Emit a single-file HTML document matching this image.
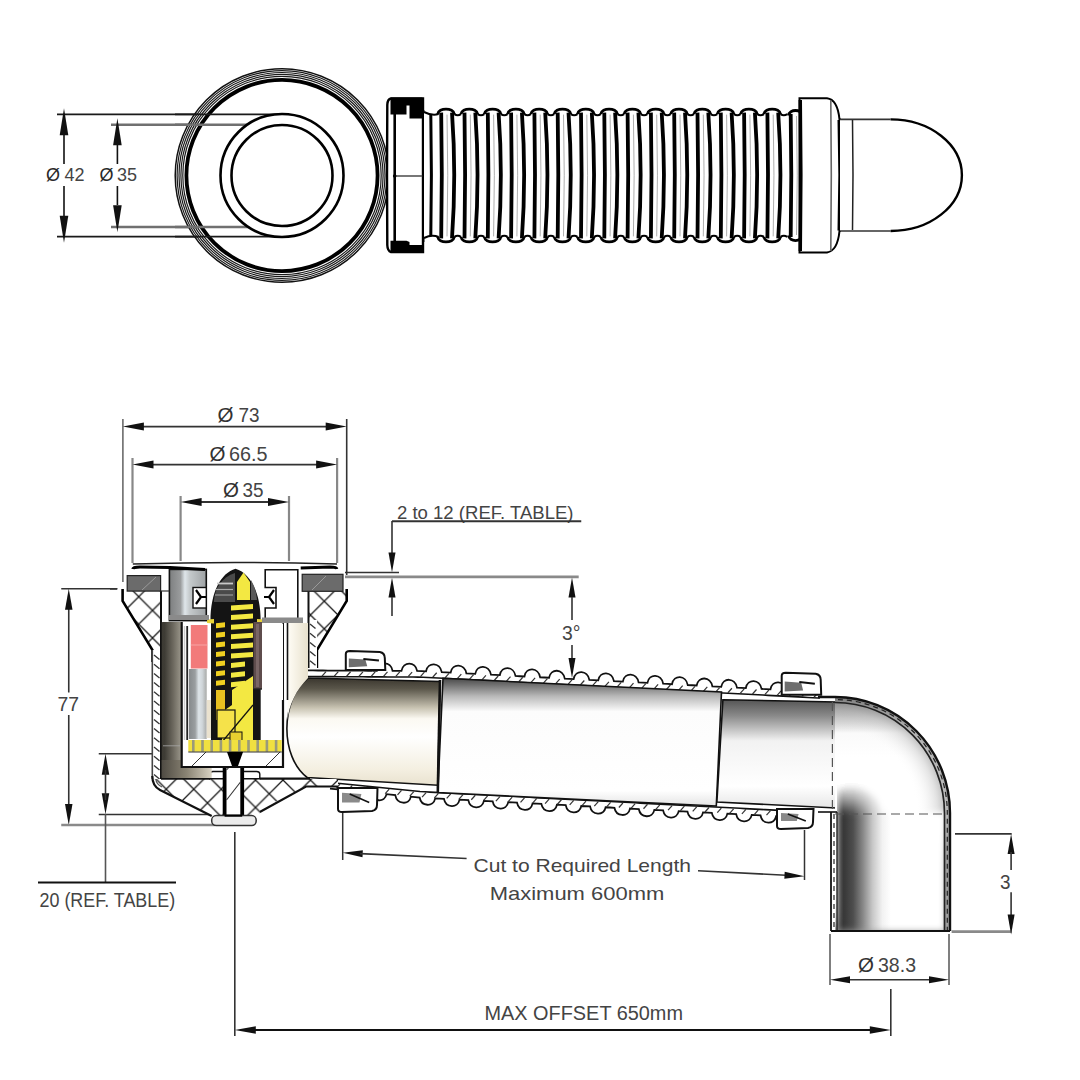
<!DOCTYPE html>
<html><head><meta charset="utf-8"><title>drawing</title>
<style>
html,body{margin:0;padding:0;background:#fff;}
svg{display:block;}
text{font-family:"Liberation Sans",sans-serif;}
</style></head>
<body>
<svg width="1080" height="1080" viewBox="0 0 1080 1080">

<defs>
 <pattern id="hatch" patternUnits="userSpaceOnUse" width="14" height="14">
   <rect width="14" height="14" fill="#fff"/>
   <path d="M-1,15 L15,-1 M-1,-1 L15,15" stroke="#111" stroke-width="1.3"/>
 </pattern>
 <pattern id="hatchL" patternUnits="userSpaceOnUse" width="27.5" height="27.5" patternTransform="translate(1.25,19.2)">
   <rect width="27.5" height="27.5" fill="#fff"/>
   <path d="M-2,-2 L29.5,29.5 M29.5,-2 L-2,29.5" stroke="#1a1a1a" stroke-width="1.3"/>
 </pattern>
 <pattern id="hatchR" patternUnits="userSpaceOnUse" width="27.5" height="27.5" patternTransform="translate(8,10)">
   <rect width="27.5" height="27.5" fill="#fff"/>
   <path d="M-2,-2 L29.5,29.5 M29.5,-2 L-2,29.5" stroke="#1a1a1a" stroke-width="1.3"/>
 </pattern>
 <linearGradient id="gWallB" x1="0" y1="0" x2="1" y2="0">
   <stop offset="0" stop-color="#4f4b43"/>
   <stop offset="0.5" stop-color="#8a8474"/>
   <stop offset="1" stop-color="#d8d2c2"/>
 </linearGradient>
 <pattern id="hatchs" patternUnits="userSpaceOnUse" width="7" height="7">
   <rect width="7" height="7" fill="#fff"/>
   <path d="M-1,8 L8,-1" stroke="#111" stroke-width="1.2"/>
 </pattern>
 <linearGradient id="gPipeL" x1="0" y1="0" x2="0" y2="1">
   <stop offset="0" stop-color="#3a362e"/>
   <stop offset="0.1" stop-color="#5a564a"/>
   <stop offset="0.28" stop-color="#c9c4b3"/>
   <stop offset="0.38" stop-color="#fbf9f2"/>
   <stop offset="0.55" stop-color="#ffffff"/>
   <stop offset="0.85" stop-color="#f4efe1"/>
   <stop offset="1" stop-color="#e9e2cf"/>
 </linearGradient>
 <linearGradient id="gPipeM" x1="0" y1="0" x2="0" y2="1">
   <stop offset="0" stop-color="#4a4a4a"/>
   <stop offset="0.05" stop-color="#707070"/>
   <stop offset="0.14" stop-color="#b8b8b8"/>
   <stop offset="0.26" stop-color="#fcfcfc"/>
   <stop offset="0.88" stop-color="#ffffff"/>
   <stop offset="1" stop-color="#e4e4e4"/>
 </linearGradient>
 <linearGradient id="gPipeR" x1="0" y1="0" x2="0" y2="1">
   <stop offset="0" stop-color="#555"/>
   <stop offset="0.15" stop-color="#8a8a8a"/>
   <stop offset="0.38" stop-color="#f2f2f2"/>
   <stop offset="0.8" stop-color="#ffffff"/>
   <stop offset="1" stop-color="#e6e6e6"/>
 </linearGradient>
 <linearGradient id="gLeg" x1="0" y1="0" x2="1" y2="0">
   <stop offset="0" stop-color="#4a4a4a"/>
   <stop offset="0.06" stop-color="#363636"/>
   <stop offset="0.15" stop-color="#4e4e4e"/>
   <stop offset="0.24" stop-color="#888"/>
   <stop offset="0.33" stop-color="#c8c8c8"/>
   <stop offset="0.42" stop-color="#f2f2f2"/>
   <stop offset="0.5" stop-color="#fff"/>
   <stop offset="1" stop-color="#fff"/>
 </linearGradient>
 <linearGradient id="gWall" x1="0" y1="0" x2="1" y2="0">
   <stop offset="0" stop-color="#3c3a33"/>
   <stop offset="0.15" stop-color="#3e3c35"/>
   <stop offset="0.6" stop-color="#6e6a60"/>
   <stop offset="1" stop-color="#9a968a"/>
 </linearGradient>
 <linearGradient id="gCream" x1="0" y1="0" x2="1" y2="0">
   <stop offset="0" stop-color="#fffdf6"/>
   <stop offset="1" stop-color="#e8e1cd"/>
 </linearGradient>
 <linearGradient id="gMetal" x1="0" y1="0" x2="1" y2="0">
   <stop offset="0" stop-color="#7d7f80"/>
   <stop offset="0.3" stop-color="#9a9c9d"/>
   <stop offset="0.42" stop-color="#dfe6ea"/>
   <stop offset="0.55" stop-color="#c5cacc"/>
   <stop offset="1" stop-color="#9ea2a4"/>
 </linearGradient>
 <linearGradient id="gBlue" x1="0" y1="0" x2="1" y2="0">
   <stop offset="0" stop-color="#868a8c"/>
   <stop offset="0.35" stop-color="#9a9ea0"/>
   <stop offset="0.55" stop-color="#dde4e8"/>
   <stop offset="0.75" stop-color="#d0d6da"/>
   <stop offset="1" stop-color="#a8aaa8"/>
 </linearGradient>
 <linearGradient id="gElbTop" x1="0" y1="0" x2="0" y2="1">
   <stop offset="0" stop-color="#4a4a4a"/>
   <stop offset="0.35" stop-color="#bdbdbd"/>
   <stop offset="0.6" stop-color="#fafafa"/>
   <stop offset="1" stop-color="#ffffff"/>
 </linearGradient>
 <radialGradient id="gBlob" cx="0.5" cy="0.5" r="0.5">
   <stop offset="0" stop-color="#333" stop-opacity="0.95"/>
   <stop offset="0.5" stop-color="#777" stop-opacity="0.5"/>
   <stop offset="1" stop-color="#fff" stop-opacity="0"/>
 </radialGradient>
 <radialGradient id="gElbRad" gradientUnits="userSpaceOnUse" cx="835" cy="813" r="116">
   <stop offset="0" stop-color="#fff" stop-opacity="0"/>
   <stop offset="0.7" stop-color="#fff" stop-opacity="0"/>
   <stop offset="0.88" stop-color="#c8c8c8" stop-opacity="0.5"/>
   <stop offset="1" stop-color="#888" stop-opacity="0.8"/>
 </radialGradient>
 <linearGradient id="gMaskLeg" x1="0" y1="0" x2="0" y2="1">
   <stop offset="0" stop-color="#000"/>
   <stop offset="0.02" stop-color="#222"/>
   <stop offset="0.2" stop-color="#fff"/>
   <stop offset="1" stop-color="#fff"/>
 </linearGradient>
 <mask id="mLeg" maskUnits="userSpaceOnUse" x="830" y="770" width="130" height="170">
   <path d="M837,931 L837,792 Q852,776 878,800 L884,812 L945,812 L945,931 Z" fill="url(#gMaskLeg)" filter="url(#blur2)"/>
 </mask>
 <filter id="blur2" x="-20%" y="-20%" width="140%" height="140%"><feGaussianBlur stdDeviation="3"/></filter>
 <clipPath id="cElb"><path d="M835,697 A115,116 0 0 1 950,813 L950,931 L831,931 L831,813 L835,813 Z"/></clipPath>
</defs>

<rect width="1080" height="1080" fill="#fff"/>
<line x1="57" y1="114.4" x2="282" y2="114.4" stroke="#1a1a1a" stroke-width="1.8" />
<line x1="57" y1="236.7" x2="282" y2="236.7" stroke="#1a1a1a" stroke-width="1.8" />
<line x1="111" y1="124.8" x2="282" y2="124.8" stroke="#707070" stroke-width="2.6" />
<line x1="111" y1="227" x2="282" y2="227" stroke="#707070" stroke-width="2.6" />
<line x1="64" y1="134" x2="64" y2="164" stroke="#111" stroke-width="1.6" />
<line x1="64" y1="186" x2="64" y2="216" stroke="#111" stroke-width="1.6" />
<polygon points="64,108.2 68.3,135.2 59.7,135.2" fill="#111"/>
<polygon points="64,242.8 59.7,215.8 68.3,215.8" fill="#111"/>
<line x1="117.4" y1="145" x2="117.4" y2="164" stroke="#111" stroke-width="1.6" />
<line x1="117.4" y1="186" x2="117.4" y2="205" stroke="#111" stroke-width="1.6" />
<polygon points="117.4,118.2 121.7,145.2 113.1,145.2" fill="#111"/>
<polygon points="117.4,232.3 113.1,205.3 121.7,205.3" fill="#111"/>
<circle cx="282" cy="175.5" r="104" fill="#fff" stroke="none"/>
<circle cx="282" cy="175.5" r="106.8" fill="none" stroke="#111" stroke-width="1.5"/>
<circle cx="282" cy="175.5" r="104.9" fill="none" stroke="#1a1a1a" stroke-width="1.2"/>
<circle cx="282" cy="175.5" r="103.0" fill="none" stroke="#1a1a1a" stroke-width="1.2"/>
<circle cx="282" cy="175.5" r="101.1" fill="none" stroke="#1a1a1a" stroke-width="1.2"/>
<circle cx="282" cy="175.5" r="99.2" fill="none" stroke="#1a1a1a" stroke-width="1.2"/>
<circle cx="282" cy="175.5" r="95.6" fill="none" stroke="#000" stroke-width="3.8"/>
<line x1="175" y1="114.4" x2="282" y2="114.4" stroke="#1a1a1a" stroke-width="1.8" />
<line x1="175" y1="236.7" x2="282" y2="236.7" stroke="#1a1a1a" stroke-width="1.8" />
<line x1="175" y1="124.8" x2="282" y2="124.8" stroke="#707070" stroke-width="2.6" />
<line x1="175" y1="227" x2="282" y2="227" stroke="#707070" stroke-width="2.6" />
<circle cx="282" cy="175.5" r="61.5" fill="#fff" stroke="#000" stroke-width="2.6"/>
<circle cx="282" cy="175.5" r="50.5" fill="#fff" stroke="#000" stroke-width="2.6"/>
<text x="46" y="180.6" font-size="18" text-anchor="start" fill="#2a2a2a" >Ø</text>
<text x="64.5" y="180.6" font-size="18" text-anchor="start" fill="#444" >42</text>
<text x="99.5" y="180.6" font-size="18" text-anchor="start" fill="#2a2a2a" >Ø</text>
<text x="117" y="180.6" font-size="18" text-anchor="start" fill="#444" >35</text>
<path d="M391,98.5 L423,98.5 L423,252 L391,252 Q387.5,251 387.3,245 L387,175 L387.3,105 Q387.5,99 391,98.5 Z" fill="#fff" stroke="#000" stroke-width="2.4"/>
<path d="M390.5,97.5 L422.5,97.5 L422.5,118.5 L409.5,118.5 L409.5,105.5 L406.5,105.5 L406.5,114.5 L390.5,114.5 Z" fill="#000"/>
<path d="M390.5,252.5 L422.5,252.5 L422.5,245 L409.5,245 L409.5,242 L406.5,240.7 L390.5,240.7 Z" fill="#000"/>
<line x1="394.7" y1="112" x2="394.7" y2="242" stroke="#000" stroke-width="2.6" />
<line x1="394.7" y1="176" x2="423" y2="176" stroke="#555" stroke-width="1.6" />
<circle cx="394.7" cy="176" r="1.8" fill="#000"/>
<line x1="423.3" y1="110" x2="423.3" y2="242" stroke="#000" stroke-width="2.2" />
<rect x="424" y="112" width="374" height="126" fill="#fff"/>
<path d="M437.7,114.1 C438.7,107.4 453.3,107.4 454.3,114.1" fill="none" stroke="#000" stroke-width="2.8"/>
<path d="M437.7,236.9 C438.7,243.6 453.3,243.6 454.3,236.9" fill="none" stroke="#000" stroke-width="2.8"/>
<path d="M454.3,114.1 Q457.65,116.6 461,114.1" fill="none" stroke="#000" stroke-width="2"/>
<path d="M454.3,236.9 Q457.65,234.4 461,236.9" fill="none" stroke="#000" stroke-width="2"/>
<path d="M441.2,112.6 Q442.4,175 441.2,238.4" fill="none" stroke="#000" stroke-width="3.8"/>
<path d="M452,112.6 Q456.5,175 452,238.4" fill="none" stroke="#000" stroke-width="3.8"/>
<path d="M447,114.6 Q448.5,175 447,236.4" fill="none" stroke="#999" stroke-width="0.8"/>
<path d="M461,114.1 C462,107.4 476.6,107.4 477.6,114.1" fill="none" stroke="#000" stroke-width="2.8"/>
<path d="M461,236.9 C462,243.6 476.6,243.6 477.6,236.9" fill="none" stroke="#000" stroke-width="2.8"/>
<path d="M477.6,114.1 Q480.95,116.6 484.3,114.1" fill="none" stroke="#000" stroke-width="2"/>
<path d="M477.6,236.9 Q480.95,234.4 484.3,236.9" fill="none" stroke="#000" stroke-width="2"/>
<path d="M464.5,112.6 Q465.7,175 464.5,238.4" fill="none" stroke="#000" stroke-width="3.8"/>
<path d="M475.3,112.6 Q479.8,175 475.3,238.4" fill="none" stroke="#000" stroke-width="3.8"/>
<path d="M470.3,114.6 Q471.8,175 470.3,236.4" fill="none" stroke="#999" stroke-width="0.8"/>
<path d="M484.3,114.1 C485.3,107.4 499.9,107.4 500.9,114.1" fill="none" stroke="#000" stroke-width="2.8"/>
<path d="M484.3,236.9 C485.3,243.6 499.9,243.6 500.9,236.9" fill="none" stroke="#000" stroke-width="2.8"/>
<path d="M500.9,114.1 Q504.25,116.6 507.6,114.1" fill="none" stroke="#000" stroke-width="2"/>
<path d="M500.9,236.9 Q504.25,234.4 507.6,236.9" fill="none" stroke="#000" stroke-width="2"/>
<path d="M487.8,112.6 Q489,175 487.8,238.4" fill="none" stroke="#000" stroke-width="3.8"/>
<path d="M498.6,112.6 Q503.1,175 498.6,238.4" fill="none" stroke="#000" stroke-width="3.8"/>
<path d="M493.6,114.6 Q495.1,175 493.6,236.4" fill="none" stroke="#999" stroke-width="0.8"/>
<path d="M507.6,114.1 C508.6,107.4 523.2,107.4 524.2,114.1" fill="none" stroke="#000" stroke-width="2.8"/>
<path d="M507.6,236.9 C508.6,243.6 523.2,243.6 524.2,236.9" fill="none" stroke="#000" stroke-width="2.8"/>
<path d="M524.2,114.1 Q527.55,116.6 530.9,114.1" fill="none" stroke="#000" stroke-width="2"/>
<path d="M524.2,236.9 Q527.55,234.4 530.9,236.9" fill="none" stroke="#000" stroke-width="2"/>
<path d="M511.1,112.6 Q512.3,175 511.1,238.4" fill="none" stroke="#000" stroke-width="3.8"/>
<path d="M521.9,112.6 Q526.4,175 521.9,238.4" fill="none" stroke="#000" stroke-width="3.8"/>
<path d="M516.9,114.6 Q518.4,175 516.9,236.4" fill="none" stroke="#999" stroke-width="0.8"/>
<path d="M530.9,114.1 C531.9,107.4 546.5,107.4 547.5,114.1" fill="none" stroke="#000" stroke-width="2.8"/>
<path d="M530.9,236.9 C531.9,243.6 546.5,243.6 547.5,236.9" fill="none" stroke="#000" stroke-width="2.8"/>
<path d="M547.5,114.1 Q550.85,116.6 554.2,114.1" fill="none" stroke="#000" stroke-width="2"/>
<path d="M547.5,236.9 Q550.85,234.4 554.2,236.9" fill="none" stroke="#000" stroke-width="2"/>
<path d="M534.4,112.6 Q535.6,175 534.4,238.4" fill="none" stroke="#000" stroke-width="3.8"/>
<path d="M545.2,112.6 Q549.7,175 545.2,238.4" fill="none" stroke="#000" stroke-width="3.8"/>
<path d="M540.2,114.6 Q541.7,175 540.2,236.4" fill="none" stroke="#999" stroke-width="0.8"/>
<path d="M554.2,114.1 C555.2,107.4 569.8,107.4 570.8,114.1" fill="none" stroke="#000" stroke-width="2.8"/>
<path d="M554.2,236.9 C555.2,243.6 569.8,243.6 570.8,236.9" fill="none" stroke="#000" stroke-width="2.8"/>
<path d="M570.8,114.1 Q574.15,116.6 577.5,114.1" fill="none" stroke="#000" stroke-width="2"/>
<path d="M570.8,236.9 Q574.15,234.4 577.5,236.9" fill="none" stroke="#000" stroke-width="2"/>
<path d="M557.7,112.6 Q558.9,175 557.7,238.4" fill="none" stroke="#000" stroke-width="3.8"/>
<path d="M568.5,112.6 Q573,175 568.5,238.4" fill="none" stroke="#000" stroke-width="3.8"/>
<path d="M563.5,114.6 Q565,175 563.5,236.4" fill="none" stroke="#999" stroke-width="0.8"/>
<path d="M577.5,114.1 C578.5,107.4 593.1,107.4 594.1,114.1" fill="none" stroke="#000" stroke-width="2.8"/>
<path d="M577.5,236.9 C578.5,243.6 593.1,243.6 594.1,236.9" fill="none" stroke="#000" stroke-width="2.8"/>
<path d="M594.1,114.1 Q597.45,116.6 600.8,114.1" fill="none" stroke="#000" stroke-width="2"/>
<path d="M594.1,236.9 Q597.45,234.4 600.8,236.9" fill="none" stroke="#000" stroke-width="2"/>
<path d="M581,112.6 Q582.2,175 581,238.4" fill="none" stroke="#000" stroke-width="3.8"/>
<path d="M591.8,112.6 Q596.3,175 591.8,238.4" fill="none" stroke="#000" stroke-width="3.8"/>
<path d="M586.8,114.6 Q588.3,175 586.8,236.4" fill="none" stroke="#999" stroke-width="0.8"/>
<path d="M600.8,114.1 C601.8,107.4 616.4,107.4 617.4,114.1" fill="none" stroke="#000" stroke-width="2.8"/>
<path d="M600.8,236.9 C601.8,243.6 616.4,243.6 617.4,236.9" fill="none" stroke="#000" stroke-width="2.8"/>
<path d="M617.4,114.1 Q620.75,116.6 624.1,114.1" fill="none" stroke="#000" stroke-width="2"/>
<path d="M617.4,236.9 Q620.75,234.4 624.1,236.9" fill="none" stroke="#000" stroke-width="2"/>
<path d="M604.3,112.6 Q605.5,175 604.3,238.4" fill="none" stroke="#000" stroke-width="3.8"/>
<path d="M615.1,112.6 Q619.6,175 615.1,238.4" fill="none" stroke="#000" stroke-width="3.8"/>
<path d="M610.1,114.6 Q611.6,175 610.1,236.4" fill="none" stroke="#999" stroke-width="0.8"/>
<path d="M624.1,114.1 C625.1,107.4 639.7,107.4 640.7,114.1" fill="none" stroke="#000" stroke-width="2.8"/>
<path d="M624.1,236.9 C625.1,243.6 639.7,243.6 640.7,236.9" fill="none" stroke="#000" stroke-width="2.8"/>
<path d="M640.7,114.1 Q644.05,116.6 647.4,114.1" fill="none" stroke="#000" stroke-width="2"/>
<path d="M640.7,236.9 Q644.05,234.4 647.4,236.9" fill="none" stroke="#000" stroke-width="2"/>
<path d="M627.6,112.6 Q628.8,175 627.6,238.4" fill="none" stroke="#000" stroke-width="3.8"/>
<path d="M638.4,112.6 Q642.9,175 638.4,238.4" fill="none" stroke="#000" stroke-width="3.8"/>
<path d="M633.4,114.6 Q634.9,175 633.4,236.4" fill="none" stroke="#999" stroke-width="0.8"/>
<path d="M647.4,114.1 C648.4,107.4 663,107.4 664,114.1" fill="none" stroke="#000" stroke-width="2.8"/>
<path d="M647.4,236.9 C648.4,243.6 663,243.6 664,236.9" fill="none" stroke="#000" stroke-width="2.8"/>
<path d="M664,114.1 Q667.35,116.6 670.7,114.1" fill="none" stroke="#000" stroke-width="2"/>
<path d="M664,236.9 Q667.35,234.4 670.7,236.9" fill="none" stroke="#000" stroke-width="2"/>
<path d="M650.9,112.6 Q652.1,175 650.9,238.4" fill="none" stroke="#000" stroke-width="3.8"/>
<path d="M661.7,112.6 Q666.2,175 661.7,238.4" fill="none" stroke="#000" stroke-width="3.8"/>
<path d="M656.7,114.6 Q658.2,175 656.7,236.4" fill="none" stroke="#999" stroke-width="0.8"/>
<path d="M670.7,114.1 C671.7,107.4 686.3,107.4 687.3,114.1" fill="none" stroke="#000" stroke-width="2.8"/>
<path d="M670.7,236.9 C671.7,243.6 686.3,243.6 687.3,236.9" fill="none" stroke="#000" stroke-width="2.8"/>
<path d="M687.3,114.1 Q690.65,116.6 694,114.1" fill="none" stroke="#000" stroke-width="2"/>
<path d="M687.3,236.9 Q690.65,234.4 694,236.9" fill="none" stroke="#000" stroke-width="2"/>
<path d="M674.2,112.6 Q675.4,175 674.2,238.4" fill="none" stroke="#000" stroke-width="3.8"/>
<path d="M685,112.6 Q689.5,175 685,238.4" fill="none" stroke="#000" stroke-width="3.8"/>
<path d="M680,114.6 Q681.5,175 680,236.4" fill="none" stroke="#999" stroke-width="0.8"/>
<path d="M694,114.1 C695,107.4 709.6,107.4 710.6,114.1" fill="none" stroke="#000" stroke-width="2.8"/>
<path d="M694,236.9 C695,243.6 709.6,243.6 710.6,236.9" fill="none" stroke="#000" stroke-width="2.8"/>
<path d="M710.6,114.1 Q713.95,116.6 717.3,114.1" fill="none" stroke="#000" stroke-width="2"/>
<path d="M710.6,236.9 Q713.95,234.4 717.3,236.9" fill="none" stroke="#000" stroke-width="2"/>
<path d="M697.5,112.6 Q698.7,175 697.5,238.4" fill="none" stroke="#000" stroke-width="3.8"/>
<path d="M708.3,112.6 Q712.8,175 708.3,238.4" fill="none" stroke="#000" stroke-width="3.8"/>
<path d="M703.3,114.6 Q704.8,175 703.3,236.4" fill="none" stroke="#999" stroke-width="0.8"/>
<path d="M717.3,114.1 C718.3,107.4 732.9,107.4 733.9,114.1" fill="none" stroke="#000" stroke-width="2.8"/>
<path d="M717.3,236.9 C718.3,243.6 732.9,243.6 733.9,236.9" fill="none" stroke="#000" stroke-width="2.8"/>
<path d="M733.9,114.1 Q737.25,116.6 740.6,114.1" fill="none" stroke="#000" stroke-width="2"/>
<path d="M733.9,236.9 Q737.25,234.4 740.6,236.9" fill="none" stroke="#000" stroke-width="2"/>
<path d="M720.8,112.6 Q722,175 720.8,238.4" fill="none" stroke="#000" stroke-width="3.8"/>
<path d="M731.6,112.6 Q736.1,175 731.6,238.4" fill="none" stroke="#000" stroke-width="3.8"/>
<path d="M726.6,114.6 Q728.1,175 726.6,236.4" fill="none" stroke="#999" stroke-width="0.8"/>
<path d="M740.6,114.1 C741.6,107.4 756.2,107.4 757.2,114.1" fill="none" stroke="#000" stroke-width="2.8"/>
<path d="M740.6,236.9 C741.6,243.6 756.2,243.6 757.2,236.9" fill="none" stroke="#000" stroke-width="2.8"/>
<path d="M757.2,114.1 Q760.55,116.6 763.9,114.1" fill="none" stroke="#000" stroke-width="2"/>
<path d="M757.2,236.9 Q760.55,234.4 763.9,236.9" fill="none" stroke="#000" stroke-width="2"/>
<path d="M744.1,112.6 Q745.3,175 744.1,238.4" fill="none" stroke="#000" stroke-width="3.8"/>
<path d="M754.9,112.6 Q759.4,175 754.9,238.4" fill="none" stroke="#000" stroke-width="3.8"/>
<path d="M749.9,114.6 Q751.4,175 749.9,236.4" fill="none" stroke="#999" stroke-width="0.8"/>
<path d="M763.9,114.1 C764.9,107.4 779.5,107.4 780.5,114.1" fill="none" stroke="#000" stroke-width="2.8"/>
<path d="M763.9,236.9 C764.9,243.6 779.5,243.6 780.5,236.9" fill="none" stroke="#000" stroke-width="2.8"/>
<path d="M780.5,114.1 Q783.85,116.6 787.2,114.1" fill="none" stroke="#000" stroke-width="2"/>
<path d="M780.5,236.9 Q783.85,234.4 787.2,236.9" fill="none" stroke="#000" stroke-width="2"/>
<path d="M767.4,112.6 Q768.6,175 767.4,238.4" fill="none" stroke="#000" stroke-width="3.8"/>
<path d="M778.2,112.6 Q782.7,175 778.2,238.4" fill="none" stroke="#000" stroke-width="3.8"/>
<path d="M773.2,114.6 Q774.7,175 773.2,236.4" fill="none" stroke="#999" stroke-width="0.8"/>
<path d="M788.5,115.5 C789.5,108.8 801.5,108.8 802.5,115.5" fill="none" stroke="#000" stroke-width="2.8"/>
<path d="M788.5,235.5 C789.5,242.2 801.5,242.2 802.5,235.5" fill="none" stroke="#000" stroke-width="2.8"/>
<path d="M790.7,114 Q791.9,175 790.7,237" fill="none" stroke="#000" stroke-width="3.8"/>
<path d="M801.5,114 Q806,175 801.5,237" fill="none" stroke="#000" stroke-width="3.8"/>
<path d="M796.5,116 Q798,175 796.5,235" fill="none" stroke="#999" stroke-width="0.8"/>
<path d="M424,112 Q432,116 438.6,114" fill="none" stroke="#000" stroke-width="2"/>
<path d="M424,238 Q432,234 438.6,237" fill="none" stroke="#000" stroke-width="2"/>
<path d="M430.8,114 Q432,175 430.8,236" fill="none" stroke="#000" stroke-width="3"/>
<path d="M799.5,98.3 L827,98.3 Q837.5,99.5 839.5,119.4 L840,119.4 L840,231 L839.5,231 Q837.5,251 827,252.4 L799.5,252.4 Z" fill="#fff" stroke="#000" stroke-width="2"/>
<path d="M800.3,100 Q801.5,175 800.3,251" fill="none" stroke="#000" stroke-width="3.4"/>
<path d="M830.8,100 Q831.8,175 830.8,251" fill="none" stroke="#666" stroke-width="1.6"/>
<path d="M838.8,120 Q840.5,175 838.8,230.5" fill="none" stroke="#000" stroke-width="2.6"/>
<path d="M840,119.4 L890.6,119.4 A71.3,55.8 0 0 1 890.6,231 L840,231 Z" fill="#fff" stroke="none"/>
<line x1="840" y1="119.4" x2="890.6" y2="119.4" stroke="#333" stroke-width="1.6" />
<line x1="840" y1="231" x2="890.6" y2="231" stroke="#333" stroke-width="1.6" />
<path d="M890.6,119.4 A71.3,55.8 0 0 1 890.6,231" fill="none" stroke="#000" stroke-width="2.4"/>
<path d="M852.5,120 Q853.5,175 852.5,230" fill="none" stroke="#222" stroke-width="1.5"/>
<line x1="122.9" y1="419" x2="122.9" y2="582" stroke="#555" stroke-width="1.4" />
<line x1="346.7" y1="419" x2="346.7" y2="575" stroke="#333" stroke-width="1.6" />
<line x1="132.5" y1="458" x2="132.5" y2="563" stroke="#888" stroke-width="2.2" />
<line x1="337.1" y1="458" x2="337.1" y2="563" stroke="#888" stroke-width="2.2" />
<line x1="180.6" y1="496" x2="180.6" y2="561" stroke="#888" stroke-width="2.2" />
<line x1="289" y1="496" x2="289" y2="561" stroke="#888" stroke-width="2.2" />
<line x1="143" y1="426.6" x2="326" y2="426.6" stroke="#333" stroke-width="1.8" />
<polygon points="122.9,426.6 143.9,422.6 143.9,430.6" fill="#111"/>
<polygon points="346.7,426.6 325.7,430.6 325.7,422.6" fill="#111"/>
<line x1="152" y1="464.6" x2="318" y2="464.6" stroke="#333" stroke-width="1.8" />
<polygon points="132.5,464.6 153.5,460.6 153.5,468.6" fill="#111"/>
<polygon points="337.1,464.6 316.1,468.6 316.1,460.6" fill="#111"/>
<line x1="200" y1="502" x2="270" y2="502" stroke="#333" stroke-width="1.8" />
<polygon points="180.6,502 201.6,498 201.6,506" fill="#111"/>
<polygon points="289,502 268,506 268,498" fill="#111"/>
<text x="217.5" y="422" font-size="20.5" text-anchor="start" fill="#333" >Ø</text>
<text x="238.5" y="422" font-size="20.5" text-anchor="start" fill="#444" textLength="21" lengthAdjust="spacingAndGlyphs" >73</text>
<text x="209.5" y="460.5" font-size="20.5" text-anchor="start" fill="#333" >Ø</text>
<text x="229" y="460.5" font-size="20.5" text-anchor="start" fill="#444" textLength="38.5" lengthAdjust="spacingAndGlyphs" >66.5</text>
<text x="223" y="497" font-size="20.5" text-anchor="start" fill="#333" >Ø</text>
<text x="242.5" y="497" font-size="20.5" text-anchor="start" fill="#444" textLength="21" lengthAdjust="spacingAndGlyphs" >35</text>
<text x="397" y="518.5" font-size="18.5" text-anchor="start" fill="#444" textLength="176.5" lengthAdjust="spacingAndGlyphs" >2 to 12 (REF. TABLE)</text>
<line x1="392" y1="521.25" x2="581.25" y2="521.25" stroke="#333" stroke-width="1.8" />
<line x1="392" y1="521" x2="392" y2="553" stroke="#333" stroke-width="1.6" />
<polygon points="392,572.5 388.5,552.5 395.5,552.5" fill="#111"/>
<polygon points="392,577.5 395.5,597.5 388.5,597.5" fill="#111"/>
<line x1="392" y1="597" x2="392" y2="616" stroke="#333" stroke-width="1.6" />
<line x1="345" y1="572.5" x2="399" y2="572.5" stroke="#333" stroke-width="1.4" />
<line x1="345" y1="576.9" x2="578.7" y2="576.9" stroke="#8a8a8a" stroke-width="2.6" />
<polygon points="572,577.5 575.5,597.5 568.5,597.5" fill="#111"/>
<line x1="572" y1="597" x2="572" y2="620" stroke="#333" stroke-width="1.6" />
<text x="562" y="640" font-size="20" text-anchor="start" fill="#444" textLength="18.5" lengthAdjust="spacingAndGlyphs" >3°</text>
<line x1="572" y1="645" x2="572" y2="660" stroke="#333" stroke-width="1.6" />
<polygon points="572,678 568.5,658 575.5,658" fill="#111"/>
<line x1="61.25" y1="588.75" x2="117.5" y2="588.75" stroke="#333" stroke-width="1.5" />
<line x1="68.75" y1="608" x2="68.75" y2="692.5" stroke="#333" stroke-width="1.6" />
<polygon points="68.75,588.75 72.5,609.75 65,609.75" fill="#111"/>
<text x="57.5" y="711" font-size="20.5" text-anchor="start" fill="#444" textLength="21.5" lengthAdjust="spacingAndGlyphs" >77</text>
<line x1="68.75" y1="715" x2="68.75" y2="806" stroke="#333" stroke-width="1.6" />
<polygon points="68.75,825 65,804 72.5,804" fill="#111"/>
<line x1="61.25" y1="825" x2="215" y2="825" stroke="#8a8a8a" stroke-width="2.6" />
<line x1="98.75" y1="753.75" x2="152" y2="753.75" stroke="#333" stroke-width="1.5" />
<line x1="98.75" y1="814.5" x2="215" y2="814.5" stroke="#333" stroke-width="1.5" />
<polygon points="105.5,753.75 109.25,774.75 101.75,774.75" fill="#111"/>
<polygon points="105.5,814.3 101.75,793.3 109.25,793.3" fill="#111"/>
<line x1="105.5" y1="770" x2="105.5" y2="800" stroke="#333" stroke-width="1.6" />
<line x1="105.5" y1="814" x2="105.5" y2="882" stroke="#555" stroke-width="1.6" />
<line x1="38" y1="882.5" x2="176" y2="882.5" stroke="#111" stroke-width="2.2" />
<text x="39.5" y="907" font-size="20" text-anchor="start" fill="#444" textLength="135.7" lengthAdjust="spacingAndGlyphs" >20 (REF. TABLE)</text>
<line x1="342.7" y1="812" x2="342.7" y2="860" stroke="#333" stroke-width="1.5" />
<polygon points="342.7,852.7 362.84,850.15 362.51,857.14" fill="#111"/>
<line x1="360" y1="853.6" x2="466.6" y2="858.5" stroke="#333" stroke-width="1.6" />
<line x1="698" y1="870.7" x2="786" y2="875.3" stroke="#333" stroke-width="1.6" />
<polygon points="804.5,876.3 784.34,878.75 784.71,871.76" fill="#111"/>
<line x1="804.5" y1="830" x2="804.5" y2="880" stroke="#333" stroke-width="1.5" />
<text x="473.5" y="872.4" font-size="19" text-anchor="start" fill="#444" textLength="217.5" lengthAdjust="spacingAndGlyphs" >Cut to Required Length</text>
<text x="489.7" y="899.7" font-size="19" text-anchor="start" fill="#444" textLength="174.6" lengthAdjust="spacingAndGlyphs" >Maximum 600mm</text>
<line x1="830" y1="934" x2="830" y2="985" stroke="#555" stroke-width="1.5" />
<line x1="949" y1="934" x2="949" y2="985" stroke="#555" stroke-width="1.5" />
<line x1="848" y1="979.7" x2="931" y2="979.7" stroke="#333" stroke-width="1.6" />
<polygon points="830,979.7 850,976.2 850,983.2" fill="#111"/>
<polygon points="949,979.7 929,983.2 929,976.2" fill="#111"/>
<text x="858" y="972.2" font-size="20.5" text-anchor="start" fill="#333" >Ø</text>
<text x="878" y="972.2" font-size="20.5" text-anchor="start" fill="#444" textLength="38" lengthAdjust="spacingAndGlyphs" >38.3</text>
<line x1="955" y1="833.9" x2="1011.7" y2="833.9" stroke="#333" stroke-width="1.6" />
<line x1="951.6" y1="931.6" x2="1011.7" y2="931.6" stroke="#8a8a8a" stroke-width="2.6" />
<polygon points="1011.1,834 1014.6,854 1007.6,854" fill="#111"/>
<line x1="1011.1" y1="852" x2="1011.1" y2="870" stroke="#333" stroke-width="1.6" />
<text x="1000" y="889.4" font-size="20.5" text-anchor="start" fill="#444" textLength="10.5" lengthAdjust="spacingAndGlyphs" >3</text>
<line x1="1011.1" y1="892.3" x2="1011.1" y2="915" stroke="#333" stroke-width="1.6" />
<polygon points="1011.1,934.5 1007.6,914.5 1014.6,914.5" fill="#111"/>
<line x1="890.8" y1="989" x2="890.8" y2="1036" stroke="#333" stroke-width="1.6" />
<line x1="234.8" y1="832" x2="234.8" y2="1036" stroke="#333" stroke-width="1.6" />
<line x1="254" y1="1030" x2="872" y2="1030" stroke="#111" stroke-width="2.2" />
<polygon points="234.8,1030 255.8,1026.25 255.8,1033.75" fill="#111"/>
<polygon points="890.8,1030 869.8,1033.75 869.8,1026.25" fill="#111"/>
<text x="484.5" y="1020" font-size="19.5" text-anchor="start" fill="#444" textLength="198.5" lengthAdjust="spacingAndGlyphs" >MAX OFFSET 650mm</text>
<polygon points="308,670.03 313,670.06 318,670.08 323,670.11 328,670.13 333,670.16 338,670.18 343,670.21 348,670.23 353,670.26 358,670.28 363,670.31 368,670.33 373,670.36 378,670.38 383,670.41 388,670.43 393,670.46 398,670.48 403,670.51 408,670.53 413,670.56 418,670.58 423,670.75 428,671.01 433,671.28 438,671.54 443,671.8 448,672.06 453,672.32 458,672.59 463,672.85 468,673.11 473,673.37 478,673.63 483,673.9 488,674.16 493,674.42 498,674.68 503,674.94 508,675.21 513,675.47 518,675.73 523,675.99 528,676.25 533,676.52 538,676.78 543,677.04 548,677.3 553,677.56 558,677.83 563,678.09 568,678.35 573,678.61 578,678.88 583,679.14 588,679.4 593,679.66 598,679.92 603,680.19 608,680.45 613,680.71 618,680.97 623,681.23 628,681.5 633,681.76 638,682.02 643,682.28 648,682.54 653,682.81 658,683.07 663,683.33 668,683.59 673,683.85 678,684.12 683,684.38 688,684.64 693,684.9 698,685.16 703,685.43 708,685.69 713,685.95 718,686.21 723,686.47 728,686.74 733,687 738,687.26 743,687.52 748,687.78 753,688.05 758,688.31 763,688.57 768,688.83 773,689.09 778,689.36 783,689.62 788,689.88 793,690.14 798,690.4 803,690.67 808,690.93 813,691.19 818,691.45 820,691.56 820,698.06 818,697.95 813,697.69 808,697.43 803,697.17 798,696.9 793,696.64 788,696.38 783,696.12 778,695.86 773,695.59 768,695.33 763,695.07 758,694.81 753,694.55 748,694.28 743,694.02 738,693.76 733,693.5 728,693.24 723,692.97 718,692.71 713,692.45 708,692.19 703,691.93 698,691.66 693,691.4 688,691.14 683,690.88 678,690.62 673,690.35 668,690.09 663,689.83 658,689.57 653,689.31 648,689.04 643,688.78 638,688.52 633,688.26 628,688 623,687.73 618,687.47 613,687.21 608,686.95 603,686.69 598,686.42 593,686.16 588,685.9 583,685.64 578,685.38 573,685.11 568,684.85 563,684.59 558,684.33 553,684.06 548,683.8 543,683.54 538,683.28 533,683.02 528,682.75 523,682.49 518,682.23 513,681.97 508,681.71 503,681.44 498,681.18 493,680.92 488,680.66 483,680.4 478,680.13 473,679.87 468,679.61 463,679.35 458,679.09 453,678.82 448,678.56 443,678.3 438,678.04 433,677.78 428,677.51 423,677.25 418,677.08 413,677.06 408,677.03 403,677.01 398,676.98 393,676.96 388,676.93 383,676.91 378,676.88 373,676.86 368,676.83 363,676.81 358,676.78 353,676.76 348,676.73 343,676.71 338,676.68 333,676.66 328,676.63 323,676.61 318,676.58 313,676.56 308,676.53" fill="#fff" stroke="none"/>
<path d="M372.4,670.76 L376.83,670.78 C378.55,660.91 390.85,660.97 392.57,670.86 L397,670.88 L401.43,670.9 C403.15,661.03 415.45,661.09 417.17,670.98 L421.6,671.08 L426.03,671.31 C427.75,661.52 440.05,662.17 441.77,672.14 L446.2,672.37 L450.63,672.6 C452.35,662.81 464.65,663.45 466.37,673.42 L470.8,673.66 L475.23,673.89 C476.95,664.1 489.25,664.74 490.97,674.71 L495.4,674.95 L499.83,675.18 C501.55,665.39 513.85,666.03 515.57,676 L520,676.24 L524.43,676.47 C526.15,666.68 538.45,667.32 540.17,677.29 L544.6,677.52 L549.03,677.76 C550.75,667.97 563.05,668.61 564.77,678.58 L569.2,678.81 L573.63,679.05 C575.35,669.26 587.65,669.9 589.37,679.87 L593.8,680.1 L598.23,680.34 C599.95,670.55 612.25,671.19 613.97,681.16 L618.4,681.39 L622.83,681.62 C624.55,671.83 636.85,672.48 638.57,682.45 L643,682.68 L647.43,682.91 C649.15,673.12 661.45,673.77 663.17,683.74 L667.6,683.97 L672.03,684.2 C673.75,674.41 686.05,675.06 687.77,685.03 L692.2,685.26 L696.63,685.49 C698.35,675.7 710.65,676.35 712.37,686.32 L716.8,686.55 L721.23,686.78 C722.95,676.99 735.25,677.64 736.97,687.61 L741.4,687.84 L745.83,688.07 C747.55,678.28 759.85,678.93 761.57,688.9 L766,689.13 L770.43,689.36 C772.15,679.57 784.45,680.21 786.17,690.18 L790.6,690.42" fill="none" stroke="#111" stroke-width="1.8"/>
<polyline points="308,670.43 313,670.46 318,670.48 323,670.51 328,670.53 333,670.56 338,670.58 343,670.61 348,670.63 353,670.66 358,670.68 363,670.71 368,670.73 372.4,670.76" fill="none" stroke="#111" stroke-width="1.8"/>
<polyline points="308,676.53 313,676.56 318,676.58 323,676.61 328,676.63 333,676.66 338,676.68 343,676.71 348,676.73 353,676.76 358,676.78 363,676.81 368,676.83 373,676.86 378,676.88 383,676.91 388,676.93 393,676.96 398,676.98 403,677.01 408,677.03 413,677.06 418,677.08 423,677.25 428,677.51 433,677.78 438,678.04 443,678.3 448,678.56 453,678.82 458,679.09 463,679.35 468,679.61 473,679.87 478,680.13 483,680.4 488,680.66 493,680.92 498,681.18 503,681.44 508,681.71 513,681.97 518,682.23 523,682.49 528,682.75 533,683.02 538,683.28 543,683.54 548,683.8 553,684.06 558,684.33 563,684.59 568,684.85 573,685.11 578,685.38 583,685.64 588,685.9 593,686.16 598,686.42 603,686.69 608,686.95 613,687.21 618,687.47 623,687.73 628,688 633,688.26 638,688.52 643,688.78 648,689.04 653,689.31 658,689.57 663,689.83 668,690.09 673,690.35 678,690.62 683,690.88 688,691.14 693,691.4 698,691.66 703,691.93 708,692.19 713,692.45 718,692.71 723,692.97 728,693.24 733,693.5 738,693.76 743,694.02 748,694.28 753,694.55 758,694.81 763,695.07 768,695.33 773,695.59 778,695.86 783,696.12 788,696.38 793,696.64 798,696.9 803,697.17 808,697.43 813,697.69 818,697.95 820,698.06" fill="none" stroke="#111" stroke-width="1.6"/>
<path d="M322,676.1 L326,671.6" stroke="#333" stroke-width="1.2"/>
<path d="M334.3,676.17 L338.3,671.67" stroke="#333" stroke-width="1.2"/>
<path d="M346.6,676.23 L350.6,671.73" stroke="#333" stroke-width="1.2"/>
<path d="M358.9,676.29 L362.9,671.79" stroke="#333" stroke-width="1.2"/>
<path d="M371.2,676.35 L375.2,671.85" stroke="#333" stroke-width="1.2"/>
<path d="M383.5,676.41 L387.5,671.91" stroke="#333" stroke-width="1.2"/>
<path d="M395.8,676.47 L399.8,671.97" stroke="#333" stroke-width="1.2"/>
<path d="M408.1,676.54 L412.1,672.04" stroke="#333" stroke-width="1.2"/>
<path d="M420.4,676.62 L424.4,672.12" stroke="#333" stroke-width="1.2"/>
<path d="M432.7,677.26 L436.7,672.76" stroke="#333" stroke-width="1.2"/>
<path d="M445,677.9 L449,673.4" stroke="#333" stroke-width="1.2"/>
<path d="M457.3,678.55 L461.3,674.05" stroke="#333" stroke-width="1.2"/>
<path d="M469.6,679.19 L473.6,674.69" stroke="#333" stroke-width="1.2"/>
<path d="M481.9,679.84 L485.9,675.34" stroke="#333" stroke-width="1.2"/>
<path d="M494.2,680.48 L498.2,675.98" stroke="#333" stroke-width="1.2"/>
<path d="M506.5,681.13 L510.5,676.63" stroke="#333" stroke-width="1.2"/>
<path d="M518.8,681.77 L522.8,677.27" stroke="#333" stroke-width="1.2"/>
<path d="M531.1,682.42 L535.1,677.92" stroke="#333" stroke-width="1.2"/>
<path d="M543.4,683.06 L547.4,678.56" stroke="#333" stroke-width="1.2"/>
<path d="M555.7,683.71 L559.7,679.21" stroke="#333" stroke-width="1.2"/>
<path d="M568,684.35 L572,679.85" stroke="#333" stroke-width="1.2"/>
<path d="M580.3,685 L584.3,680.5" stroke="#333" stroke-width="1.2"/>
<path d="M592.6,685.64 L596.6,681.14" stroke="#333" stroke-width="1.2"/>
<path d="M604.9,686.28 L608.9,681.78" stroke="#333" stroke-width="1.2"/>
<path d="M617.2,686.93 L621.2,682.43" stroke="#333" stroke-width="1.2"/>
<path d="M629.5,687.57 L633.5,683.07" stroke="#333" stroke-width="1.2"/>
<path d="M641.8,688.22 L645.8,683.72" stroke="#333" stroke-width="1.2"/>
<path d="M654.1,688.86 L658.1,684.36" stroke="#333" stroke-width="1.2"/>
<path d="M666.4,689.51 L670.4,685.01" stroke="#333" stroke-width="1.2"/>
<path d="M678.7,690.15 L682.7,685.65" stroke="#333" stroke-width="1.2"/>
<path d="M691,690.8 L695,686.3" stroke="#333" stroke-width="1.2"/>
<path d="M703.3,691.44 L707.3,686.94" stroke="#333" stroke-width="1.2"/>
<path d="M715.6,692.09 L719.6,687.59" stroke="#333" stroke-width="1.2"/>
<path d="M727.9,692.73 L731.9,688.23" stroke="#333" stroke-width="1.2"/>
<path d="M740.2,693.38 L744.2,688.88" stroke="#333" stroke-width="1.2"/>
<path d="M752.5,694.02 L756.5,689.52" stroke="#333" stroke-width="1.2"/>
<path d="M764.8,694.66 L768.8,690.16" stroke="#333" stroke-width="1.2"/>
<path d="M777.1,695.31 L781.1,690.81" stroke="#333" stroke-width="1.2"/>
<path d="M789.4,695.95 L793.4,691.45" stroke="#333" stroke-width="1.2"/>
<path d="M801.7,696.6 L805.7,692.1" stroke="#333" stroke-width="1.2"/>
<path d="M814,697.24 L818,692.74" stroke="#333" stroke-width="1.2"/>
<polygon points="330,782.55 335,783.05 340,783.55 345,784.05 350,784.55 355,785.05 360,785.55 365,786.05 370,786.55 375,787.05 380,787.55 385,788.05 390,788.55 395,789.05 400,789.55 405,790.05 410,790.55 415,791.05 420,791.55 425,791.81 430,792.08 435,792.34 440,792.6 445,792.86 450,793.12 455,793.39 460,793.65 465,793.91 470,794.17 475,794.43 480,794.7 485,794.96 490,795.22 495,795.48 500,795.74 505,796.01 510,796.27 515,796.53 520,796.79 525,797.05 530,797.32 535,797.58 540,797.84 545,798.1 550,798.36 555,798.63 560,798.89 565,799.15 570,799.41 575,799.68 580,799.94 585,800.2 590,800.46 595,800.72 600,800.99 605,801.25 610,801.51 615,801.77 620,802.03 625,802.3 630,802.56 635,802.82 640,803.08 645,803.34 650,803.61 655,803.87 660,804.13 665,804.39 670,804.65 675,804.92 680,805.18 685,805.44 690,805.7 695,805.96 700,806.23 705,806.49 710,806.75 715,807.01 720,807.27 725,807.54 730,807.8 735,808.06 740,808.32 745,808.58 750,808.85 755,809.11 760,809.37 765,809.63 770,809.89 775,810.16 780,810.42 785,810.68 790,810.94 795,811.2 800,811.47 800,817.97 795,817.7 790,817.44 785,817.18 780,816.92 775,816.66 770,816.39 765,816.13 760,815.87 755,815.61 750,815.35 745,815.08 740,814.82 735,814.56 730,814.3 725,814.04 720,813.77 715,813.51 710,813.25 705,812.99 700,812.73 695,812.46 690,812.2 685,811.94 680,811.68 675,811.42 670,811.15 665,810.89 660,810.63 655,810.37 650,810.11 645,809.84 640,809.58 635,809.32 630,809.06 625,808.8 620,808.53 615,808.27 610,808.01 605,807.75 600,807.49 595,807.22 590,806.96 585,806.7 580,806.44 575,806.18 570,805.91 565,805.65 560,805.39 555,805.13 550,804.86 545,804.6 540,804.34 535,804.08 530,803.82 525,803.55 520,803.29 515,803.03 510,802.77 505,802.51 500,802.24 495,801.98 490,801.72 485,801.46 480,801.2 475,800.93 470,800.67 465,800.41 460,800.15 455,799.89 450,799.62 445,799.36 440,799.1 435,798.84 430,798.58 425,798.31 420,798.05 415,797.55 410,797.05 405,796.55 400,796.05 395,795.55 390,795.05 385,794.55 380,794.05 375,793.55 370,793.05 365,792.55 360,792.05 355,791.55 350,791.05 345,790.55 340,790.05 335,789.55 330,789.05" fill="#fff"/>
<path d="M342.17,789.77 L346.56,790.21 C348.26,799.48 360.44,800.7 362.14,791.77 L366.52,792.2 L370.91,792.64 C372.61,801.91 384.79,803.13 386.49,794.2 L390.88,794.64 L395.26,795.08 C396.96,804.35 409.14,805.57 410.84,796.64 L415.22,797.07 L419.61,797.51 C421.31,806.72 433.49,807.36 435.19,798.35 L439.57,798.58 L443.96,798.81 C445.66,808 457.84,808.63 459.54,799.62 L463.92,799.85 L468.31,800.08 C470.01,809.27 482.19,809.91 483.89,800.9 L488.27,801.13 L492.66,801.36 C494.36,810.55 506.54,811.19 508.24,802.18 L512.62,802.41 L517.01,802.64 C518.71,811.83 530.89,812.46 532.59,803.45 L536.98,803.68 L541.36,803.91 C543.06,813.1 555.24,813.74 556.94,804.73 L561.32,804.96 L565.71,805.19 C567.41,814.38 579.59,815.02 581.29,806 L585.67,806.23 L590.06,806.46 C591.76,815.65 603.94,816.29 605.64,807.28 L610.02,807.51 L614.41,807.74 C616.11,816.93 628.29,817.57 629.99,808.56 L634.38,808.79 L638.76,809.02 C640.46,818.21 652.64,818.84 654.34,809.83 L658.73,810.06 L663.11,810.29 C664.81,819.48 676.99,820.12 678.69,811.11 L683.07,811.34 L687.46,811.57 C689.16,820.76 701.34,821.4 703.04,812.39 L707.43,812.62 L711.81,812.84 C713.51,822.03 725.69,822.67 727.39,813.66 L731.77,813.89 L736.16,814.12 C737.86,823.31 750.04,823.95 751.74,814.94 L756.12,815.17 L760.51,815.4 C762.21,824.59 774.39,825.22 776.09,816.21 L780.48,816.44 L784.86,816.67 C786.56,825.86 798.74,826.5 800.44,817.49 L804.82,817.72" fill="none" stroke="#111" stroke-width="1.8"/>
<polyline points="330,788.55 335,789.05 340,789.55 342.17,789.77" fill="none" stroke="#111" stroke-width="1.8"/>
<polyline points="330,782.55 335,783.05 340,783.55 345,784.05 350,784.55 355,785.05 360,785.55 365,786.05 370,786.55 375,787.05 380,787.55 385,788.05 390,788.55 395,789.05 400,789.55 405,790.05 410,790.55 415,791.05 420,791.55 425,791.81 430,792.08 435,792.34 440,792.6 445,792.86 450,793.12 455,793.39 460,793.65 465,793.91 470,794.17 475,794.43 480,794.7 485,794.96 490,795.22 495,795.48 500,795.74 505,796.01 510,796.27 515,796.53 520,796.79 525,797.05 530,797.32 535,797.58 540,797.84 545,798.1 550,798.36 555,798.63 560,798.89 565,799.15 570,799.41 575,799.68 580,799.94 585,800.2 590,800.46 595,800.72 600,800.99 605,801.25 610,801.51 615,801.77 620,802.03 625,802.3 630,802.56 635,802.82 640,803.08 645,803.34 650,803.61 655,803.87 660,804.13 665,804.39 670,804.65 675,804.92 680,805.18 685,805.44 690,805.7 695,805.96 700,806.23 705,806.49 710,806.75 715,807.01 720,807.27 725,807.54 730,807.8 735,808.06 740,808.32 745,808.58 750,808.85 755,809.11 760,809.37 765,809.63 770,809.89 775,810.16 780,810.42 785,810.68 790,810.94 795,811.2 800,811.47" fill="none" stroke="#111" stroke-width="1.6"/>
<path d="M336,788.65 L340,784.15" stroke="#333" stroke-width="1.2"/>
<path d="M348.3,789.88 L352.3,785.38" stroke="#333" stroke-width="1.2"/>
<path d="M360.6,791.11 L364.6,786.61" stroke="#333" stroke-width="1.2"/>
<path d="M372.9,792.34 L376.9,787.84" stroke="#333" stroke-width="1.2"/>
<path d="M385.2,793.57 L389.2,789.07" stroke="#333" stroke-width="1.2"/>
<path d="M397.5,794.8 L401.5,790.3" stroke="#333" stroke-width="1.2"/>
<path d="M409.8,796.03 L413.8,791.53" stroke="#333" stroke-width="1.2"/>
<path d="M422.1,797.16 L426.1,792.66" stroke="#333" stroke-width="1.2"/>
<path d="M434.4,797.81 L438.4,793.31" stroke="#333" stroke-width="1.2"/>
<path d="M446.7,798.45 L450.7,793.95" stroke="#333" stroke-width="1.2"/>
<path d="M459,799.1 L463,794.6" stroke="#333" stroke-width="1.2"/>
<path d="M471.3,799.74 L475.3,795.24" stroke="#333" stroke-width="1.2"/>
<path d="M483.6,800.38 L487.6,795.88" stroke="#333" stroke-width="1.2"/>
<path d="M495.9,801.03 L499.9,796.53" stroke="#333" stroke-width="1.2"/>
<path d="M508.2,801.67 L512.2,797.17" stroke="#333" stroke-width="1.2"/>
<path d="M520.5,802.32 L524.5,797.82" stroke="#333" stroke-width="1.2"/>
<path d="M532.8,802.96 L536.8,798.46" stroke="#333" stroke-width="1.2"/>
<path d="M545.1,803.61 L549.1,799.11" stroke="#333" stroke-width="1.2"/>
<path d="M557.4,804.25 L561.4,799.75" stroke="#333" stroke-width="1.2"/>
<path d="M569.7,804.9 L573.7,800.4" stroke="#333" stroke-width="1.2"/>
<path d="M582,805.54 L586,801.04" stroke="#333" stroke-width="1.2"/>
<path d="M594.3,806.19 L598.3,801.69" stroke="#333" stroke-width="1.2"/>
<path d="M606.6,806.83 L610.6,802.33" stroke="#333" stroke-width="1.2"/>
<path d="M618.9,807.48 L622.9,802.98" stroke="#333" stroke-width="1.2"/>
<path d="M631.2,808.12 L635.2,803.62" stroke="#333" stroke-width="1.2"/>
<path d="M643.5,808.76 L647.5,804.26" stroke="#333" stroke-width="1.2"/>
<path d="M655.8,809.41 L659.8,804.91" stroke="#333" stroke-width="1.2"/>
<path d="M668.1,810.05 L672.1,805.55" stroke="#333" stroke-width="1.2"/>
<path d="M680.4,810.7 L684.4,806.2" stroke="#333" stroke-width="1.2"/>
<path d="M692.7,811.34 L696.7,806.84" stroke="#333" stroke-width="1.2"/>
<path d="M705,811.99 L709,807.49" stroke="#333" stroke-width="1.2"/>
<path d="M717.3,812.63 L721.3,808.13" stroke="#333" stroke-width="1.2"/>
<path d="M729.6,813.28 L733.6,808.78" stroke="#333" stroke-width="1.2"/>
<path d="M741.9,813.92 L745.9,809.42" stroke="#333" stroke-width="1.2"/>
<path d="M754.2,814.57 L758.2,810.07" stroke="#333" stroke-width="1.2"/>
<path d="M766.5,815.21 L770.5,810.71" stroke="#333" stroke-width="1.2"/>
<path d="M778.8,815.86 L782.8,811.36" stroke="#333" stroke-width="1.2"/>
<path d="M791.1,816.5 L795.1,812" stroke="#333" stroke-width="1.2"/>
<path d="M307.9,678 L440,681.5 L437.8,785.2 L307.2,777.5 C280,757 280,700 307.9,678 Z" fill="url(#gPipeL)" stroke="#111" stroke-width="1.6"/>
<path d="M443,678.3 L721.5,691.9 L716.3,806 L437.8,792.6 Z" fill="url(#gPipeM)" stroke="#111" stroke-width="1.6"/>
<line x1="440" y1="680" x2="437.8" y2="792" stroke="#111" stroke-width="2.6" />
<path d="M722.9,699.7 L836,702 L836,808 L716.9,802 Z" fill="url(#gPipeR)" stroke="#111" stroke-width="1.6"/>
<path d="M345.8,670 L345.8,654 Q345.8,651 349.8,651 L379.8,652 Q384.8,653 384.8,658 L385.3,670 Z" fill="#fff" stroke="#111" stroke-width="2"/>
<path d="M348.8,658.6 L365.3,659.55 L367.25,666.2 L348.8,667.15 Z" fill="#6e6e6e"/>
<path d="M363.35,658.98 L378.95,660.5" stroke="#111" stroke-width="2"/>
<path d="M338,788 L338,809 Q338,812 342,812 L372,811 Q377,810 377,805 L377.5,788 Z" fill="#fff" stroke="#111" stroke-width="2"/>
<path d="M342,792.8 L361.4,794 L359.45,802.4 L342,802.4 Z" fill="#8a8a8a"/>
<path d="M349.7,794 L369.2,802.4" stroke="#111" stroke-width="1.6"/>
<path d="M781.7,694.8 L781.7,675.8 Q781.7,672.8 785.7,672.8 L815.7,673.8 Q820.7,674.8 820.7,679.8 L821.2,694.8 Z" fill="#fff" stroke="#111" stroke-width="2"/>
<path d="M784.7,681.6 L801.2,682.7 L803.15,690.4 L784.7,691.5 Z" fill="#6e6e6e"/>
<path d="M799.25,682.04 L814.85,683.8" stroke="#111" stroke-width="2"/>
<path d="M777,809 L777,826 Q777,829 781,829 L808,828 Q813,827 813,822 L813.5,809 Z" fill="#fff" stroke="#111" stroke-width="2"/>
<path d="M781,813 L798.6,814 L796.8,821 L781,821 Z" fill="#8a8a8a"/>
<path d="M787.8,814 L805.8,821" stroke="#111" stroke-width="1.6"/>
<path d="M835,697 A115,116 0 0 1 950,813 L950,931 L831,931 L831,813 L835,813 Z" fill="#fff"/>
<g clip-path="url(#cElb)">
<rect x="835" y="697" width="115" height="60" fill="url(#gElbTop)"/>
<rect x="835" y="697" width="116" height="235" fill="url(#gElbRad)"/>
<rect x="837" y="780" width="108" height="151" fill="url(#gLeg)" mask="url(#mLeg)"/>
</g>
<path d="M818,697 L835,697 A115,116 0 0 1 950,813 L950,931" fill="none" stroke="#111" stroke-width="2.4"/>
<path d="M835,702.5 A109.5,110.5 0 0 1 944.5,813 L944.5,931" fill="none" stroke="#222" stroke-width="1.7" />
<path d="M838,699.6 A112.3,113.3 0 0 1 947.3,813 L947.3,931" fill="none" stroke="#222" stroke-width="1.2" stroke-dasharray="5 4"/>
<line x1="831" y1="812" x2="831" y2="931" stroke="#111" stroke-width="1.8" />
<line x1="837" y1="812" x2="837" y2="931" stroke="#222" stroke-width="1.4" />
<line x1="834" y1="814" x2="834" y2="931" stroke="#222" stroke-width="1.2" stroke-dasharray="5 4"/>
<line x1="831" y1="931" x2="950" y2="931" stroke="#111" stroke-width="2" />
<line x1="832.4" y1="702" x2="832.4" y2="814" stroke="#555" stroke-width="1.2" stroke-dasharray="9 5"/>
<line x1="835" y1="814" x2="944" y2="814" stroke="#555" stroke-width="1.2" stroke-dasharray="9 5"/>
<line x1="818" y1="812" x2="837" y2="812" stroke="#111" stroke-width="1.6" />
<path d="M122.6,591 L160.5,591 L160.5,660 L152.5,660 L152.5,650 L122.6,601 Z" fill="url(#hatchL)" stroke="none"/>
<path d="M122.6,589 L122.6,601 L152.5,650 L152.5,662" fill="none" stroke="#000" stroke-width="2.6"/>
<path d="M346.7,591 L308,591 L308,660 L316.9,660 L316.9,650 L346.7,601 Z" fill="url(#hatchR)" stroke="none"/>
<path d="M346.7,589 L346.7,601 L316.9,650 L316.9,668" fill="none" stroke="#000" stroke-width="2.6"/>
<rect x="152.5" y="650" width="8.5" height="130" fill="#fff"/>
<line x1="154" y1="655" x2="159.5" y2="659.5" stroke="#333" stroke-width="1.3" />
<line x1="154" y1="664.2" x2="159.5" y2="668.7" stroke="#333" stroke-width="1.3" />
<line x1="154" y1="673.4" x2="159.5" y2="677.9" stroke="#333" stroke-width="1.3" />
<line x1="154" y1="682.6" x2="159.5" y2="687.1" stroke="#333" stroke-width="1.3" />
<line x1="154" y1="691.8" x2="159.5" y2="696.3" stroke="#333" stroke-width="1.3" />
<line x1="154" y1="701" x2="159.5" y2="705.5" stroke="#333" stroke-width="1.3" />
<line x1="154" y1="710.2" x2="159.5" y2="714.7" stroke="#333" stroke-width="1.3" />
<line x1="154" y1="719.4" x2="159.5" y2="723.9" stroke="#333" stroke-width="1.3" />
<line x1="154" y1="728.6" x2="159.5" y2="733.1" stroke="#333" stroke-width="1.3" />
<line x1="154" y1="737.8" x2="159.5" y2="742.3" stroke="#333" stroke-width="1.3" />
<line x1="154" y1="747" x2="159.5" y2="751.5" stroke="#333" stroke-width="1.3" />
<line x1="154" y1="756.2" x2="159.5" y2="760.7" stroke="#333" stroke-width="1.3" />
<line x1="154" y1="765.4" x2="159.5" y2="769.9" stroke="#333" stroke-width="1.3" />
<line x1="154" y1="774.6" x2="159.5" y2="779.1" stroke="#333" stroke-width="1.3" />
<line x1="152.3" y1="650" x2="152.3" y2="779" stroke="#444" stroke-width="1.6" />
<line x1="161" y1="591" x2="161" y2="779" stroke="#111" stroke-width="2.0" />
<rect x="308" y="620" width="9" height="48" fill="#fff"/>
<line x1="310" y1="624" x2="315.5" y2="628.5" stroke="#333" stroke-width="1.3" />
<line x1="310" y1="633.2" x2="315.5" y2="637.7" stroke="#333" stroke-width="1.3" />
<line x1="310" y1="642.4" x2="315.5" y2="646.9" stroke="#333" stroke-width="1.3" />
<line x1="310" y1="651.6" x2="315.5" y2="656.1" stroke="#333" stroke-width="1.3" />
<line x1="310" y1="660.8" x2="315.5" y2="665.3" stroke="#333" stroke-width="1.3" />
<line x1="308.5" y1="591" x2="308.5" y2="668" stroke="#111" stroke-width="2.0" />
<path d="M152.3,779 Q152.3,786 160,790 L211.7,816 L224,816 L224,779 Z" fill="url(#hatchL)" stroke="none"/>
<path d="M152.3,776 Q152.3,786 160,790 L211.7,816" fill="none" stroke="#111" stroke-width="2.2"/>
<path d="M156,779 Q156,784 162,787" fill="none" stroke="#555" stroke-width="1.2"/>
<path d="M243,779 L338,779 L338,786 L306,786 L259.8,810 L259.8,816 L243,816 Z" fill="url(#hatchR)" stroke="none"/>
<path d="M259.8,812 L306,786.5 L338,786.5" fill="none" stroke="#111" stroke-width="2.2"/>
<line x1="161" y1="778.7" x2="210" y2="778.7" stroke="#111" stroke-width="2.2" />
<line x1="259.8" y1="778.7" x2="310" y2="778.7" stroke="#111" stroke-width="2.2" />
<path d="M209.8,778.7 L209.8,774 Q210,771.5 213,771.5 L224,771.5 L224,778.7 Z" fill="#fff" stroke="#111" stroke-width="1.4"/>
<path d="M259.8,778.7 L259.8,774 Q259.6,771.5 256.6,771.5 L243,771.5 L243,778.7 Z" fill="#fff" stroke="#111" stroke-width="1.4"/>
<rect x="224.6" y="766" width="17.6" height="50" fill="#fff"/>
<line x1="224.6" y1="766" x2="224.6" y2="816" stroke="#000" stroke-width="3.8" />
<line x1="242.2" y1="766" x2="242.2" y2="816" stroke="#000" stroke-width="3.8" />
<line x1="226.5" y1="800" x2="240.5" y2="782" stroke="#333" stroke-width="1.1" />
<line x1="226.5" y1="770" x2="232" y2="764" stroke="#333" stroke-width="1.1" />
<rect x="211.7" y="815.6" width="44.5" height="10" rx="4.5" fill="#ececec" stroke="#333" stroke-width="1.5"/>
<line x1="224.6" y1="815.6" x2="242.2" y2="815.6" stroke="#000" stroke-width="2.2" />
<rect x="161.7" y="622" width="19.5" height="156" rx="1" fill="url(#gWall)"/>
<rect x="161.7" y="760" width="50" height="18" fill="url(#gWallB)"/>
<line x1="163" y1="745.8" x2="180" y2="745.8" stroke="#aaa" stroke-width="0.8" />
<path d="M287.5,623 L308,623 L308,678 C296,690 289,705 287.5,720 Z" fill="url(#gCream)"/>
<line x1="283" y1="620" x2="283" y2="700" stroke="#111" stroke-width="2" />
<line x1="287.5" y1="620" x2="287.5" y2="700" stroke="#111" stroke-width="1.6" />
<line x1="256.7" y1="699" x2="283" y2="699" stroke="#111" stroke-width="1.6" />
<rect x="182" y="624" width="101" height="143" fill="#fff"/>
<path d="M181.7,622 L181.7,767 L283,767 L283,700" fill="none" stroke="#111" stroke-width="2.2"/>
<line x1="187.2" y1="626" x2="187.2" y2="740" stroke="#222" stroke-width="1.8" />
<line x1="184.5" y1="626" x2="184.5" y2="740" stroke="#ccc" stroke-width="1.4" />
<rect x="190.8" y="625" width="16.7" height="43.5" fill="#f27a7a"/>
<line x1="190.8" y1="645" x2="207.5" y2="645" stroke="#f9b0b0" stroke-width="0.8" />
<rect x="188.9" y="669" width="17.8" height="70" fill="url(#gBlue)"/>
<rect x="206.7" y="700" width="11.6" height="38" fill="#eae2cf"/>
<rect x="262.5" y="620" width="20" height="79" fill="#fff"/>
<path d="M210.5,621 C210.5,592 221,573 235.5,568.8 C250,573 260.7,592 260.7,621 L260.7,742 L211,742 L211,621 Z" fill="#141414"/>
<path d="M214,600 C215,588 222,577 235,573 L235,602 L214,602 Z" fill="#4a4a4a"/>
<path d="M251,580 Q256,588 257,600 L251,600 Z" fill="#5a5a5a"/>
<line x1="217" y1="583.5" x2="233" y2="583.5" stroke="#c8c8c8" stroke-width="1.8" />
<line x1="216" y1="589.5" x2="233" y2="589.5" stroke="#aaa" stroke-width="1.2" />
<line x1="215" y1="595" x2="233" y2="595" stroke="#999" stroke-width="1.2" />
<path d="M237,600 L237,582 L243.5,572.5 L250,582 L250,600 Z" fill="#f3e842"/>
<path d="M207,619.5 L214,619 L214,623.5 L207,623 Z" fill="#e8d43a"/>
<path d="M257,619 L264,619.5 L264,623 L257,623.5 Z" fill="#e8d43a"/>
<path d="M231,605.5 L253,604 L253,609 L231,610.5 Z" fill="#f3e842"/>
<path d="M231,615.1 L253,613.6 L253,618.6 L231,620.1 Z" fill="#f3e842"/>
<path d="M216,623.2 L225,622.2 L225,627.2 L216,628.2 Z" fill="#f0d020"/>
<path d="M231,624.7 L253,623.2 L253,628.2 L231,629.7 Z" fill="#f3e842"/>
<path d="M216,632.8 L225,631.8 L225,636.8 L216,637.8 Z" fill="#f0d020"/>
<path d="M231,634.3 L253,632.8 L253,637.8 L231,639.3 Z" fill="#f3e842"/>
<path d="M216,642.4 L225,641.4 L225,646.4 L216,647.4 Z" fill="#f0d020"/>
<path d="M231,643.9 L253,642.4 L253,647.4 L231,648.9 Z" fill="#f3e842"/>
<path d="M216,652 L225,651 L225,656 L216,657 Z" fill="#f0d020"/>
<path d="M231,653.5 L253,652 L253,657 L231,658.5 Z" fill="#f3e842"/>
<path d="M216,661.6 L225,660.6 L225,665.6 L216,666.6 Z" fill="#f0d020"/>
<path d="M231,663.1 L245,661.6 L245,666.6 L231,668.1 Z" fill="#f3e842"/>
<path d="M216,671.2 L225,670.2 L225,675.2 L216,676.2 Z" fill="#f0d020"/>
<path d="M231,672.7 L245,671.2 L245,676.2 L231,677.7 Z" fill="#f3e842"/>
<path d="M216,680.8 L225,679.8 L225,684.8 L216,685.8 Z" fill="#f0d020"/>
<path d="M231,682.3 L245,680.8 L245,685.8 L231,687.3 Z" fill="#f3e842"/>
<path d="M232,690 L253,676 L253,742 L222,742 L222,712 L232,705 Z" fill="#f3e842"/>
<rect x="216" y="690" width="9" height="30" fill="#e8c020"/>
<rect x="217" y="710" width="18" height="28" fill="#f5e24a" stroke="#111" stroke-width="1.2"/>
<line x1="222" y1="742" x2="253" y2="705" stroke="#111" stroke-width="1.2" />
<rect x="230" y="732" width="12" height="20" fill="#e8d030" stroke="#111" stroke-width="1"/>
<rect x="253.5" y="622" width="8.5" height="67" fill="#5e4c4c"/>
<rect x="256" y="624" width="3" height="63" fill="#7a6666"/>
<line x1="253.5" y1="689" x2="262" y2="689" stroke="#222" stroke-width="1.4" />
<rect x="188.3" y="740" width="93.4" height="11.7" fill="#f0e040"/>
<rect x="192" y="740" width="2.6" height="11.7" fill="#9a9a7a"/>
<rect x="201.2" y="740" width="2.6" height="11.7" fill="#9a9a7a"/>
<rect x="210.4" y="740" width="2.6" height="11.7" fill="#9a9a7a"/>
<rect x="219.6" y="740" width="2.6" height="11.7" fill="#9a9a7a"/>
<rect x="228.8" y="740" width="2.6" height="11.7" fill="#9a9a7a"/>
<rect x="238" y="740" width="2.6" height="11.7" fill="#9a9a7a"/>
<rect x="247.2" y="740" width="2.6" height="11.7" fill="#9a9a7a"/>
<rect x="256.4" y="740" width="2.6" height="11.7" fill="#9a9a7a"/>
<rect x="265.6" y="740" width="2.6" height="11.7" fill="#9a9a7a"/>
<rect x="274.8" y="740" width="2.6" height="11.7" fill="#9a9a7a"/>
<line x1="188.3" y1="752" x2="281.7" y2="752" stroke="#333" stroke-width="1.2" />
<path d="M227,752 L243,752 L238,766 L232,766 Z" fill="#000"/>
<line x1="192" y1="766" x2="206" y2="752" stroke="#333" stroke-width="1" />
<line x1="266" y1="766" x2="280" y2="752" stroke="#333" stroke-width="1" />
<rect x="169.4" y="569.4" width="36.9" height="51.2" fill="url(#gMetal)" stroke="#111" stroke-width="1.6"/>
<rect x="193" y="587.5" width="13.3" height="20.5" fill="#fff" stroke="#111" stroke-width="1.4"/>
<path d="M196,590 L201,597 L196,604 M201,597 L206,597" stroke="#000" stroke-width="2.2" fill="none"/>
<path d="M265.2,569.8 L297.8,569.8 L297.8,620.2 L265.2,620.2 L265.2,608 L276,608 L276,587.5 L265.2,587.5 Z" fill="#fff" stroke="#111" stroke-width="1.6"/>
<path d="M274,590 L269,597 L274,604 M269,597 L264,597" stroke="#000" stroke-width="2.2" fill="none"/>
<rect x="262" y="617.5" width="41" height="5.5" fill="#8a8a8a"/>
<rect x="169" y="615" width="40" height="5" fill="#8a8a8a"/>
<line x1="161" y1="591" x2="169.4" y2="591" stroke="#333" stroke-width="1.2" />
<path d="M132.8,569 Q133,567 140,567 L170,567.5 L205,569.5 M300.7,568 L330,567 Q336.5,567 336.8,569" fill="none" stroke="#000" stroke-width="3"/>
<path d="M132.8,564 Q235,561 337,564" fill="none" stroke="#222" stroke-width="1.4"/>
<rect x="127.2" y="575.6" width="33.4" height="15.5" fill="#6b6b6b" stroke="#222" stroke-width="1.2"/>
<line x1="142" y1="590" x2="156" y2="577" stroke="#9a9a9a" stroke-width="1" />
<rect x="302.2" y="574.3" width="40.8" height="17" fill="#6b6b6b" stroke="#222" stroke-width="1.2"/>
<line x1="312" y1="590" x2="326" y2="576" stroke="#9a9a9a" stroke-width="1" />
<line x1="110" y1="589" x2="117" y2="589" stroke="#333" stroke-width="1.4" />
</svg>
</body></html>
